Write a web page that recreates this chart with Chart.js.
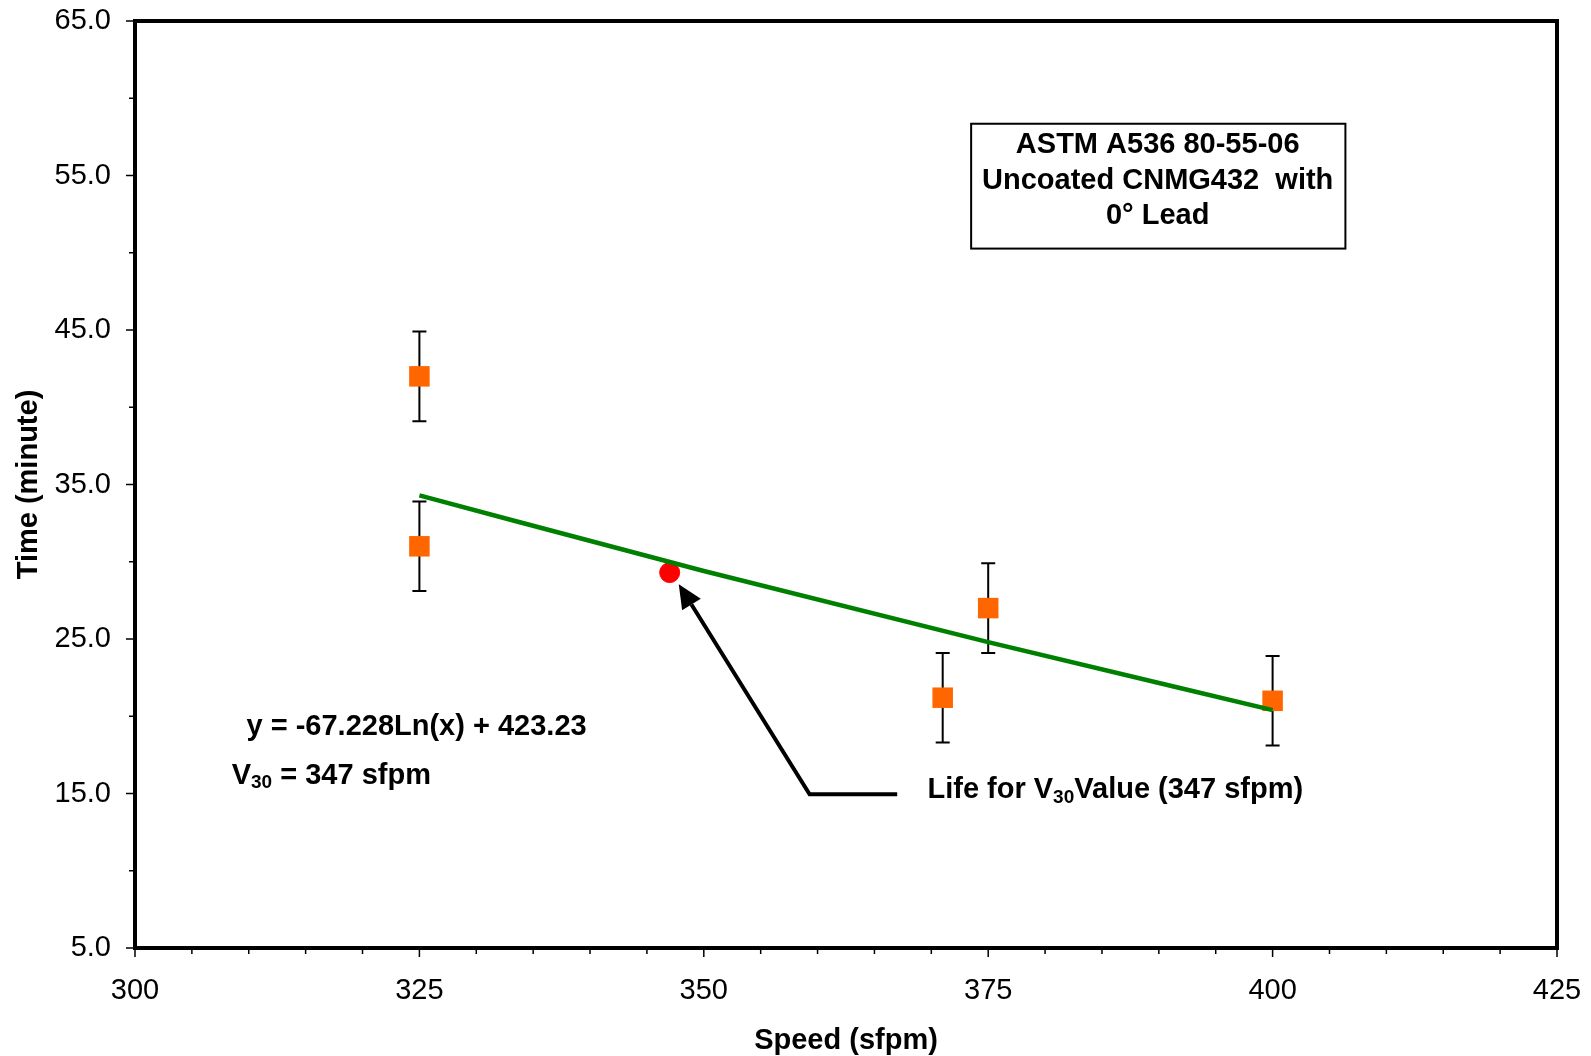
<!DOCTYPE html>
<html lang="en">
<head>
<meta charset="UTF-8">
<title>Tool life vs cutting speed</title>
<script src="https://cdn.jsdelivr.net/npm/chart.js"></script>
<style>
  html, body { margin: 0; padding: 0; background: #ffffff; }
  .chart-box { width: 1591px; height: 1056px; }
</style>
</head>
<body>
<div class="chart-box"><canvas id="lifeChart"></canvas></div>
<script>
// measured tool life (minute) at each speed (sfpm), with error bar half-heights
const speeds = [325, 325, 371, 375, 400];
const lifeTimes = [42.0, 31.0, 21.2, 27.0, 21.0];
const lifeErrors = [2.9, 2.9, 2.9, 2.9, 2.9];

// life at the V30 speed
const v30Speeds = [347];
const v30Lives = [29.3];

// log trend line
const trendSpeeds = [325, 350, 375, 400];
const trendLives = [34.3, 29.4, 24.8, 20.4];

// labelled ticks
const xTickLabels = [300, 325, 350, 375, 400, 425];
const yTickLabels = [5, 15, 25, 35, 45, 55, 65];

const FONT = "'Liberation Sans', Arial, sans-serif";

// plot frame plus major / minor tick marks
const frame = {
    id: 'frame',
    afterDraw(chart) {
        const { ctx, chartArea: a, scales: { x, y } } = chart;
        ctx.save();
        ctx.strokeStyle = '#000';
        ctx.lineWidth = 1.5;
        ctx.beginPath();
        x.ticks.forEach(t => {
            const p = x.getPixelForValue(t.value);
            const len = xTickLabels.includes(t.value) ? 9 : 6;
            ctx.moveTo(p, a.bottom);
            ctx.lineTo(p, a.bottom + len);
        });
        y.ticks.forEach(t => {
            const p = y.getPixelForValue(t.value);
            const len = yTickLabels.includes(t.value) ? 9 : 6;
            ctx.moveTo(a.left, p);
            ctx.lineTo(a.left - len, p);
        });
        ctx.stroke();
        ctx.lineWidth = 4;
        ctx.strokeRect(a.left, a.top, a.right - a.left, a.bottom - a.top);
        ctx.restore();
    }
};

// error bars under the orange squares
const errorBars = {
    id: 'errorBars',
    beforeDatasetsDraw(chart) {
        const { ctx, scales: { x, y } } = chart;
        ctx.save();
        ctx.strokeStyle = '#000';
        ctx.lineWidth = 2;
        ctx.beginPath();
        speeds.forEach((s, i) => {
            const px = x.getPixelForValue(s);
            const top = y.getPixelForValue(lifeTimes[i] + lifeErrors[i]);
            const bot = y.getPixelForValue(lifeTimes[i] - lifeErrors[i]);
            ctx.moveTo(px, top); ctx.lineTo(px, bot);
            ctx.moveTo(px - 7, top); ctx.lineTo(px + 7, top);
            ctx.moveTo(px - 7, bot); ctx.lineTo(px + 7, bot);
        });
        ctx.stroke();
        ctx.restore();
    }
};

// draw text pieces, some as subscripts
function drawParts(ctx, x0, yMid, parts) {
    let x = x0;
    parts.forEach(p => {
        ctx.font = p.sub ? 'bold 19px ' + FONT : 'bold 29px ' + FONT;
        ctx.fillText(p.t, x, p.sub ? yMid + 7 : yMid);
        x += ctx.measureText(p.t).width;
    });
}

const notes = {
    id: 'notes',
    afterDraw(chart) {
        const { ctx, scales: { x, y } } = chart;
        const px = v => x.getPixelForValue(v);
        const py = v => y.getPixelForValue(v);
        ctx.save();
        ctx.fillStyle = '#000';
        ctx.strokeStyle = '#000';
        ctx.textBaseline = 'middle';

        // material box
        ctx.lineWidth = 2;
        ctx.strokeRect(px(373.5), py(58.35), px(406.4) - px(373.5), py(50.27) - py(58.35));
        ctx.font = 'bold 29px ' + FONT;
        ctx.textAlign = 'center';
        ctx.fillText('ASTM A536 80-55-06', px(389.9), py(56.97));
        ctx.fillText('Uncoated CNMG432  with', px(389.9), py(54.67));
        ctx.fillText('0\u00B0 Lead', px(389.9), py(52.37));

        // equation and V30
        ctx.textAlign = 'left';
        drawParts(ctx, px(309.8), py(19.32), [{ t: 'y = -67.228Ln(x) + 423.23' }]);
        drawParts(ctx, px(308.5), py(16.12), [{ t: 'V' }, { t: '30', sub: true }, { t: ' = 347 sfpm' }]);
        drawParts(ctx, px(369.66), py(15.2), [{ t: 'Life for V' }, { t: '30', sub: true }, { t: 'Value (347 sfpm)' }]);

        // arrow pointing at the V30 life
        const tipX = px(347.8), tipY = py(28.55);
        const cX = px(359.3), cY = py(14.95);
        const ang = Math.atan2(tipY - cY, tipX - cX);
        const head = 24, half = 11;
        const bx = tipX - head * Math.cos(ang), by = tipY - head * Math.sin(ang);
        ctx.lineWidth = 4;
        ctx.beginPath();
        ctx.moveTo(px(367), cY);
        ctx.lineTo(cX, cY);
        ctx.lineTo(bx, by);
        ctx.stroke();
        ctx.beginPath();
        ctx.moveTo(tipX, tipY);
        ctx.lineTo(bx + half * Math.sin(ang), by - half * Math.cos(ang));
        ctx.lineTo(bx - half * Math.sin(ang), by + half * Math.cos(ang));
        ctx.closePath();
        ctx.fill();
        ctx.restore();
    }
};

const pts = (xs, ys) => xs.map((v, i) => ({ x: v, y: ys[i] }));

// no extra room for overhanging tick labels, layout padding decides the plot box
function noOverhang(s) {
    s.paddingTop = 0; s.paddingBottom = 0; s.paddingLeft = 0; s.paddingRight = 0;
}

new Chart(document.getElementById('lifeChart'), {
    type: 'scatter',
    data: {
        datasets: [
            {
                label: 'Log trend',
                type: 'line',
                data: pts(trendSpeeds, trendLives),
                borderColor: '#008000',
                borderWidth: 4.5,
                pointRadius: 0,
                fill: false,
                cubicInterpolationMode: 'monotone',
                order: 0
            },
            {
                label: 'V30 life',
                data: pts(v30Speeds, v30Lives),
                backgroundColor: '#ff0000',
                borderColor: '#ff0000',
                pointRadius: 10,
                order: 1
            },
            {
                label: 'Tool life',
                data: pts(speeds, lifeTimes),
                pointStyle: 'rect',
                backgroundColor: '#ff6600',
                borderColor: '#ff6600',
                borderWidth: 0,
                pointRadius: 14.5,
                order: 2
            }
        ]
    },
    options: {
        responsive: true,
        maintainAspectRatio: false,
        animation: false,
        layout: { padding: { top: 21, right: 34, left: 0, bottom: 0 } },
        plugins: {
            legend: { display: false },
            tooltip: { enabled: false }
        },
        scales: {
            x: {
                type: 'linear',
                position: 'bottom',
                min: 300,
                max: 425,
                afterFit: s => { s.height = 108; noOverhang(s); },
                grid: { display: false, drawTicks: false },
                border: { display: false },
                ticks: {
                    stepSize: 5,
                    autoSkip: false,
                    maxRotation: 0,
                    padding: 26,
                    color: '#000',
                    font: { family: FONT, size: 29 },
                    callback: v => xTickLabels.includes(v) ? String(v) : ''
                },
                title: {
                    display: true,
                    text: 'Speed (sfpm)',
                    color: '#000',
                    font: { family: FONT, size: 29, weight: 'bold', lineHeight: 1.05 },
                    padding: 0
                }
            },
            y: {
                min: 5,
                max: 65,
                afterFit: s => { s.width = 135; noOverhang(s); },
                grid: { display: false, drawTicks: false },
                border: { display: false },
                ticks: {
                    stepSize: 5,
                    autoSkip: false,
                    padding: 24,
                    color: '#000',
                    font: { family: FONT, size: 29 },
                    callback: v => yTickLabels.includes(v) ? v.toFixed(1) : ''
                },
                title: {
                    display: true,
                    text: 'Time (minute)',
                    color: '#000',
                    font: { family: FONT, size: 29, weight: 'bold' },
                    padding: { top: 12, bottom: 0 }
                }
            }
        }
    },
    plugins: [errorBars, frame, notes]
});
</script>
</body>
</html>
